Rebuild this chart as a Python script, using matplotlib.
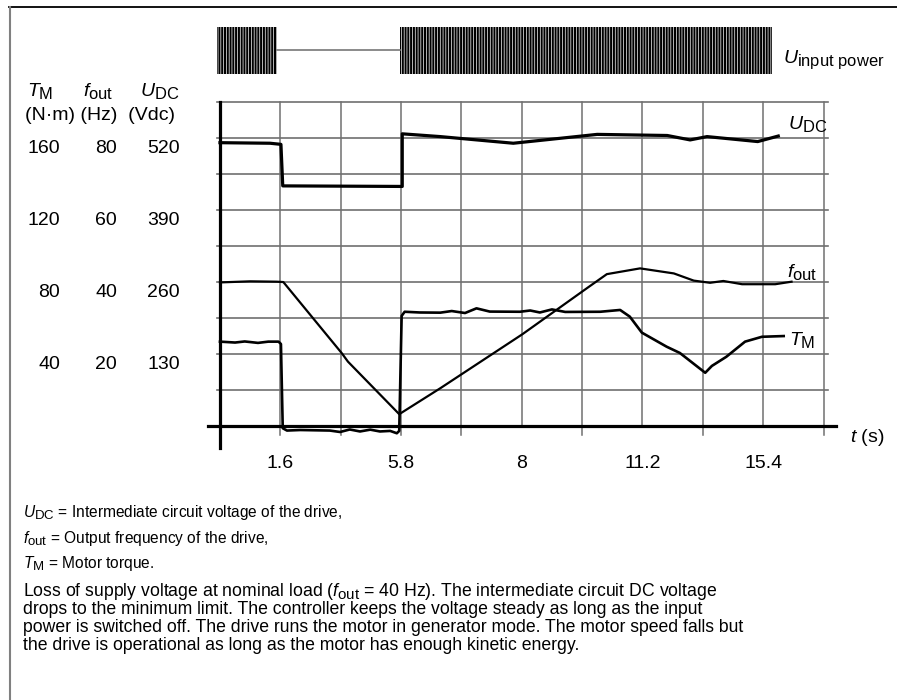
import numpy as np
import matplotlib.pyplot as plt
import matplotlib._mathtext as mathtext_internal
from matplotlib.patches import Rectangle
from matplotlib.lines import Line2D

# time axis is drawn in grid columns (the printed tick labels are not linear)
t_ticks = [1, 3, 5, 7, 9]
t_labels = ['1.6', '5.8', '8', '11.2', '15.4']

# left scales: torque (N·m), frequency (Hz), DC voltage (Vdc)
tm_ticks = [160, 120, 80, 40]
f_ticks = [80, 60, 40, 20]
udc_ticks = [520, 390, 260, 130]

# input power present (grid columns)
power_on = [(-0.055, 0.94), (2.98, 9.14)]

# U_DC (Vdc)
t_udc = [0, 0.83, 1.01, 1.04, 3.02, 3.02, 3.65, 4.86, 6.25, 7.41, 7.79, 8.07, 8.91, 9.25]
u_dc = [511, 510, 508, 433, 432, 527, 522, 510, 526, 524, 516, 522, 513, 523]

# f_out (Hz)
t_f = [0, 0.5, 0.94, 1.05, 2.02, 2.12, 2.97, 3.65, 5.01, 6.08, 6.41, 6.96, 7.52,
       7.85, 8.12, 8.34, 8.65, 9.2, 9.47]
f_out = [39.8, 40.1, 40.0, 39.9, 20.1, 17.8, 3.2, 10.4, 25.4, 38.2, 42.1, 43.7, 42.3,
         40.3, 39.7, 40.2, 39.3, 39.3, 40.0]

# T_M (N·m)
t_tm = [0, 0.25, 0.41, 0.63, 0.8, 0.97, 1.01, 1.04, 1.11, 1.33, 1.82, 1.99, 2.15,
        2.32, 2.49, 2.65, 2.82, 2.93, 2.97, 3.01, 3.06, 3.31, 3.65, 3.84, 4.06,
        4.25, 4.47, 4.97, 5.14, 5.3, 5.5, 5.72, 6.3, 6.63, 6.79, 6.99, 7.4, 7.62,
        8.04, 8.15, 8.39, 8.7, 8.98, 9.34]
t_m = [46.7, 46.2, 46.8, 46.0, 46.7, 46.7, 45.4, -1.4, -2.7, -2.4, -2.7, -3.5, -2.1,
       -3.2, -2.2, -3.2, -2.9, -4.2, -2.9, 61.0, 63.3, 62.9, 62.8, 63.7, 62.6,
       65.2, 63.4, 63.3, 64.0, 62.9, 64.6, 63.2, 63.3, 64.3, 60.6, 51.7, 43.9, 40.4,
       29.4, 33.2, 38.3, 46.7, 49.4, 49.8]

# everything is plotted on the torque scale
f_to_tm = tm_ticks[0] / f_ticks[0]
u_to_tm = tm_ticks[0] / udc_ticks[0]

plt.rcParams['font.family'] = ['Liberation Sans', 'DejaVu Sans']
plt.rcParams['mathtext.fontset'] = 'custom'
plt.rcParams['mathtext.rm'] = 'Liberation Sans'
plt.rcParams['mathtext.it'] = 'Liberation Sans:italic'
plt.rcParams['mathtext.bf'] = 'Liberation Sans:bold'
plt.rcParams['hatch.linewidth'] = 0.5
plt.rcParams['hatch.color'] = 'white'
# subscripts in the original are only a little smaller than the main text
mathtext_internal.SHRINK_FACTOR = 0.85

W, H = 897, 700
fig = plt.figure(figsize=(W / 100, H / 100), dpi=100)
ax = fig.add_axes([200 / W, 220 / H, 640 / W, 465 / H])
ax.set_xlim(-0.331, 10.273)
ax.set_ylim(-30.17, 228.17)
ax.axis('off')

grid_col = '#707070'
# horizontal grid
for gy in range(20, 181, 20):
    ax.plot([-0.055, 10.07], [gy, gy], color=grid_col, lw=1.2, zorder=1)
# vertical grid (some have a small stub under the axis)
stubs = [1, 2, 3, 4, 6, 8, 10]
for gx in range(1, 11):
    y0 = -5 if gx in stubs else 0
    ax.plot([gx, gx], [y0, 180], color=grid_col, lw=1.1, zorder=1)

# axes
ax.plot([0, 0], [-12.2, 180], color='black', lw=2.3, zorder=3)
ax.plot([-0.2, 10.2], [0, 0], color='black', lw=2.3, zorder=3)

# curves
ax.plot(t_udc, np.array(u_dc) * u_to_tm, color='black', lw=2.3, zorder=4)
ax.plot(t_f, np.array(f_out) * f_to_tm, color='black', lw=1.6, zorder=4)
ax.plot(t_tm, t_m, color='black', lw=1.9, zorder=4)

# input power band
band_mid, band_half = 208.5, 13.1
for a, b in power_on:
    ax.add_patch(Rectangle((a, band_mid - band_half), b - a, 2 * band_half,
                           facecolor='black', edgecolor='white', hatch='|' * 6,
                           lw=0, zorder=2))
for (a0, b0), (a1, b1) in zip(power_on[:-1], power_on[1:]):
    ax.plot([b0, a1], [band_mid, band_mid], color='#777777', lw=1.2, zorder=2)

fs = 14
ax.text(9.33, 201.5, r'$U_{\mathrm{input\ power}}$', fontsize=fs, va='baseline')
ax.text(9.41, 164.7, r'$U_{\mathrm{DC}}$', fontsize=fs, va='baseline')
ax.text(9.39, 82.6, r'$f_{\mathrm{out}}$', fontsize=fs, va='baseline')
ax.text(9.42, 44.8, r'$T_{\mathrm{M}}$', fontsize=fs, va='baseline')

# x tick labels
for pos, lab in zip(t_ticks, t_labels):
    ax.text(pos, -23.5, lab, fontsize=fs, ha='center', va='baseline')
ax.text(10.44, -8.9, r'$t$ (s)', fontsize=fs, ha='left', va='baseline')

# left value columns
col_x = [-2.65, -1.707, -0.663]
for vals, cx in zip([tm_ticks, f_ticks, udc_ticks], col_x):
    for v_tm, v in zip(tm_ticks, vals):
        ax.text(cx, v_tm - 8.3, str(v), fontsize=fs, ha='right', va='baseline')


def fx(px):
    return px / W


def fy(py):
    return 1 - py / H


fig.text(fx(27), fy(96), r'$T_{\mathrm{M}}$', fontsize=fs, va='baseline')
fig.text(fx(83), fy(96), r'$f_{\mathrm{out}}$', fontsize=fs, va='baseline')
fig.text(fx(140), fy(96), r'$U_{\mathrm{DC}}$', fontsize=fs, va='baseline')
fig.text(fx(25), fy(120), '(N·m) (Hz)  (Vdc)', fontsize=fs, va='baseline')

# description below the chart
legend_lines = [
    (517, r'$U_{\mathrm{DC}}$ = Intermediate circuit voltage of the drive,'),
    (543, r'$f_{\mathrm{out}}$ = Output frequency of the drive,'),
    (568, r'$T_{\mathrm{M}}$ = Motor torque.'),
]
para_lines = [
    (596, r'Loss of supply voltage at nominal load ($f_{\mathrm{out}}$ = 40 Hz). '
          'The intermediate circuit DC voltage'),
    (614, 'drops to the minimum limit. The controller keeps the voltage steady as long as the input'),
    (632, 'power is switched off. The drive runs the motor in generator mode. '
          'The motor speed falls but'),
    (650, 'the drive is operational as long as the motor has enough kinetic energy.'),
]
for py, s in legend_lines:
    fig.text(fx(23), fy(py), s, fontsize=11.2, va='baseline')
for py, s in para_lines:
    fig.text(fx(23), fy(py), s, fontsize=12.7, va='baseline')

# frame
fig.add_artist(Line2D([fx(9), 1], [fy(7), fy(7)], color='black', lw=1.3))
fig.add_artist(Line2D([fx(9.5), fx(9.5)], [0, fy(7)], color='#808080', lw=1.5))

fig.savefig('out.png', dpi=100)
